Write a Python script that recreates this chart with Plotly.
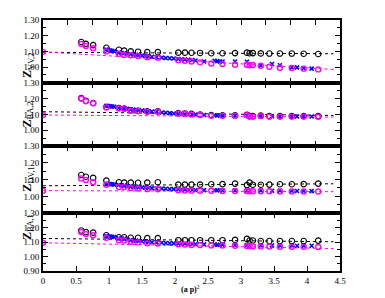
import plotly.graph_objects as go

# Common momenta for black / magenta series
xc = [0.58, 0.65, 0.76, 0.96, 1.15, 1.23, 1.33, 1.44, 1.58, 1.74,
      2.05, 2.15, 2.25, 2.38, 2.55, 2.72, 2.91, 3.09, 3.13, 3.18,
      3.30, 3.43, 3.59, 3.77, 3.95, 4.17]
# Momenta for blue series
xb = [0.96, 0.99, 1.02, 1.05, 1.08, 1.15, 1.19, 1.23, 1.27, 1.33,
      1.37, 1.41, 1.45, 1.50, 1.55, 1.60, 1.65, 1.72, 1.80, 1.86,
      1.92, 1.98, 2.05, 2.10, 2.15, 2.20, 2.26, 2.31, 2.44, 2.60,
      2.64, 2.68, 2.72, 2.91, 3.09, 3.30, 3.47, 3.59, 3.77, 3.85,
      3.95, 4.07]
fit_x = [0.0, 4.4]

labels = ["VV,2", "BA,2", "DV,1", "BA,1"]

black = [
    [1.160, 1.148, 1.140, 1.123, 1.110, 1.105, 1.100, 1.098, 1.095, 1.095,
     1.092, 1.092, 1.091, 1.090, 1.088, 1.088, 1.089, 1.092, 1.088, 1.089,
     1.087, 1.086, 1.086, 1.086, 1.085, 1.083],
    [1.203, 1.186, 1.172, 1.147, 1.140, 1.137, 1.126, 1.123, 1.120, 1.120,
     1.108, 1.106, 1.103, 1.099, 1.095, 1.094, 1.094, 1.098, 1.089, 1.089,
     1.092, 1.089, 1.089, 1.089, 1.089, 1.089],
    [1.127, 1.117, 1.110, 1.094, 1.084, 1.082, 1.082, 1.081, 1.082, 1.084,
     1.070, 1.070, 1.070, 1.070, 1.072, 1.073, 1.076, 1.067, 1.082, 1.069,
     1.069, 1.070, 1.072, 1.072, 1.073, 1.076],
    [1.180, 1.169, 1.165, 1.147, 1.133, 1.133, 1.130, 1.130, 1.127, 1.127,
     1.113, 1.113, 1.113, 1.113, 1.113, 1.113, 1.115, 1.122, 1.111, 1.111,
     1.107, 1.107, 1.107, 1.107, 1.107, 1.110],
]
magenta = [
    [1.148, 1.135, 1.120, 1.100, 1.085, 1.077, 1.075, 1.070, 1.062, 1.060,
     1.044, 1.040, 1.035, 1.030, 1.023, 1.020, 1.015, 1.015, 1.012, 1.013,
     1.008, 1.002, 0.996, 0.994, 0.990, 0.985],
    [1.200, 1.183, 1.170, 1.144, 1.138, 1.135, 1.123, 1.120, 1.117, 1.117,
     1.106, 1.104, 1.100, 1.096, 1.092, 1.092, 1.092, 1.094, 1.086, 1.086,
     1.090, 1.086, 1.086, 1.086, 1.086, 1.085],
    [1.107, 1.098, 1.084, 1.069, 1.055, 1.055, 1.050, 1.047, 1.043, 1.042,
     1.036, 1.035, 1.034, 1.033, 1.033, 1.032, 1.032, 1.031, 1.030, 1.030,
     1.030, 1.030, 1.029, 1.029, 1.029, 1.029],
    [1.169, 1.155, 1.147, 1.129, 1.113, 1.111, 1.102, 1.098, 1.091, 1.090,
     1.085, 1.083, 1.080, 1.079, 1.077, 1.076, 1.075, 1.073, 1.072, 1.071,
     1.070, 1.069, 1.068, 1.067, 1.067, 1.066],
]
blue = [
    [1.112, 1.108, 1.106, 1.104, 1.100, 1.092, 1.090, 1.088, 1.085, 1.082,
     1.080, 1.078, 1.076, 1.073, 1.070, 1.068, 1.066, 1.063, 1.060, 1.058,
     1.056, 1.054, 1.052, 1.050, 1.048, 1.047, 1.045, 1.042, 1.036, 1.040,
     1.038, 1.036, 1.035, 1.035, 1.034, 1.010, 1.020, 1.012, 0.998, 0.998,
     0.992, 0.990],
    [1.155, 1.153, 1.151, 1.150, 1.148, 1.140, 1.139, 1.137, 1.135, 1.131,
     1.130, 1.128, 1.127, 1.125, 1.122, 1.120, 1.118, 1.116, 1.112, 1.110,
     1.108, 1.106, 1.104, 1.103, 1.102, 1.101, 1.100, 1.099, 1.096, 1.094,
     1.093, 1.093, 1.092, 1.092, 1.093, 1.089, 1.088, 1.087, 1.087, 1.086,
     1.086, 1.086],
    [1.075, 1.074, 1.073, 1.072, 1.070, 1.068, 1.066, 1.064, 1.062, 1.058,
     1.057, 1.056, 1.054, 1.053, 1.052, 1.050, 1.049, 1.047, 1.046, 1.045,
     1.044, 1.043, 1.042, 1.041, 1.040, 1.039, 1.038, 1.038, 1.037, 1.036,
     1.036, 1.036, 1.035, 1.035, 1.034, 1.034, 1.033, 1.033, 1.032, 1.032,
     1.032, 1.031],
    [1.140, 1.139, 1.138, 1.137, 1.135, 1.127, 1.125, 1.123, 1.121, 1.113,
     1.111, 1.110, 1.108, 1.105, 1.102, 1.100, 1.099, 1.098, 1.095, 1.093,
     1.092, 1.091, 1.090, 1.089, 1.088, 1.087, 1.086, 1.085, 1.084, 1.083,
     1.082, 1.082, 1.081, 1.080, 1.079, 1.078, 1.077, 1.076, 1.076, 1.075,
     1.075, 1.074],
]
extrap = [1.097, 1.096, 1.034, 1.095]          # magenta point at (a p)^2 = 0
fit_black = [[1.094, 1.085], [1.117, 1.093], [1.063, 1.075], [1.125, 1.102]]
fit_mag = [[1.097, 0.985], [1.096, 1.083], [1.034, 1.028], [1.095, 1.055]]

x_ticks = [0, 0.5, 1, 1.5, 2, 2.5, 3, 3.5, 4, 4.5]

MAG = "#ff00ff"
FONT = "Liberation Serif"

# panel domains (top to bottom)
domains = [[0.75, 1.0], [0.498, 0.75], [0.2305, 0.498], [0.0, 0.2305]]

fig = go.Figure()
for i in range(4):
    xa = "x" if i == 0 else f"x{i+1}"
    ya = "y" if i == 0 else f"y{i+1}"
    fig.add_trace(go.Scatter(x=fit_x, y=fit_black[i], mode="lines", xaxis=xa, yaxis=ya,
                             line=dict(color="black", width=1, dash="3px,3px"), showlegend=False))
    fig.add_trace(go.Scatter(x=fit_x, y=fit_mag[i], mode="lines", xaxis=xa, yaxis=ya,
                             line=dict(color=MAG, width=1, dash="3px,3px"), showlegend=False))
    fig.add_trace(go.Scatter(x=xc, y=black[i], mode="markers", xaxis=xa, yaxis=ya,
                             marker=dict(symbol="circle-open", size=5.5, color="black",
                                         line=dict(width=1.1)), showlegend=False))
    fig.add_trace(go.Scatter(x=xb, y=blue[i], mode="markers", xaxis=xa, yaxis=ya,
                             marker=dict(symbol="x-thin-open", size=4, color="blue",
                                         line=dict(width=1.5, color="blue")), showlegend=False))
    fig.add_trace(go.Scatter(x=[0.0] + xc, y=[extrap[i]] + magenta[i], mode="markers",
                             xaxis=xa, yaxis=ya,
                             marker=dict(symbol="circle-open", size=5, color=MAG,
                                         line=dict(width=1.4)), showlegend=False))

    last = (i == 3)
    xaxis = dict(range=[0, 4.5], domain=[0, 1], anchor=ya,
                 showline=True, linecolor="black", linewidth=2, mirror="allticks",
                 ticks="inside", ticklen=5, tickwidth=1, tickcolor="black",
                 showgrid=False, zeroline=False,
                 tickfont=dict(family=FONT, size=9, color="black"))
    if last:
        xaxis.update(tickvals=x_ticks, showticklabels=True)
    else:
        xaxis.update(tick0=0, dtick=0.375, showticklabels=False)
    if i > 0:
        xaxis["matches"] = "x"
    yvals = [0.9, 1.0, 1.1, 1.2, 1.3] if last else [1.0, 1.1, 1.2, 1.3]
    yaxis = dict(range=[0.9, 1.3], domain=domains[i], anchor=xa,
                 showline=True, linecolor="black", linewidth=2, mirror="allticks",
                 ticks="inside", ticklen=5, tickwidth=1, tickcolor="black",
                 tickvals=yvals, ticktext=[f"{v:.2f}" for v in yvals],
                 minor=dict(ticks="inside", ticklen=3, tickcolor="black",
                            tickvals=[0.95, 1.05, 1.15, 1.25]),
                 showgrid=False, zeroline=False,
                 tickfont=dict(family=FONT, size=9, color="black"))
    fig.layout[f"xaxis{'' if i == 0 else i+1}"] = xaxis
    fig.layout[f"yaxis{'' if i == 0 else i+1}"] = yaxis
    d0, d1 = domains[i]
    fig.add_annotation(text=f"<b>Z</b><sub>{labels[i]}</sub>", xref="paper", yref="paper",
                       x=-0.084, y=(d0 + d1) / 2, showarrow=False, textangle=-90,
                       font=dict(family=FONT, size=12, color="black"))

fig.add_annotation(text="<b>(a p)</b><sup>2</sup>", xref="paper", yref="paper",
                   x=0.495, y=-0.07, showarrow=False, yanchor="middle",
                   font=dict(family=FONT, size=8, color="black"))

fig.update_layout(width=385, height=298, margin=dict(l=43, r=45, t=20, b=22),
                  plot_bgcolor="white", paper_bgcolor="white")
fig.write_html("out.html", config={"displayModeBar": False},
               post_script="document.body.style.margin='0';document.body.style.padding='0';")
